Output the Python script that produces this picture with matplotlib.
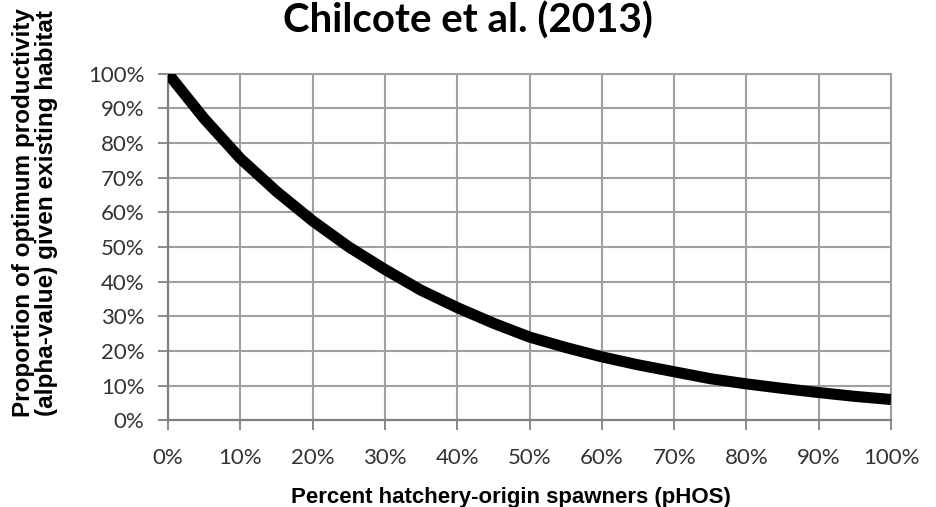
import matplotlib.pyplot as plt
from matplotlib.ticker import PercentFormatter

# pHOS (%) and proportion of optimum productivity (%)
phos = [0, 5, 10, 15, 20, 25, 30, 35, 40, 45, 50,
        55, 60, 65, 70, 75, 80, 85, 90, 95, 100]
productivity = [100, 87, 75.5, 66, 57.5, 50, 43.5, 37.5, 32.5, 28, 24,
                21, 18.3, 16, 14, 12, 10.5, 9.2, 8, 6.9, 6]

x_ticks = list(range(0, 101, 10))
y_ticks = list(range(0, 101, 10))

GRID_COLOR = "#a0a0a0"
AXIS_COLOR = "#808080"
LABEL_FONT = "Liberation Sans"

fig = plt.figure(figsize=(9.36, 5.07), dpi=100)
ax = fig.add_axes([0.1795, 0.171, 0.7725, 0.684])

ax.plot(phos, productivity, color="black", linewidth=8,
        solid_capstyle="butt", zorder=3)

ax.set_xlim(0, 100)
ax.set_ylim(0, 100)
ax.set_xticks(x_ticks)
ax.set_yticks(y_ticks)
ax.xaxis.set_major_formatter(PercentFormatter(decimals=0))
ax.yaxis.set_major_formatter(PercentFormatter(decimals=0))

ax.grid(True, color=GRID_COLOR, linewidth=1.5)
ax.set_axisbelow(True)
for side in ["top", "right"]:
    ax.spines[side].set_color(GRID_COLOR)
    ax.spines[side].set_linewidth(1.5)
for side in ["left", "bottom"]:
    ax.spines[side].set_color(AXIS_COLOR)
    ax.spines[side].set_linewidth(1.6)

ax.tick_params(axis="both", direction="out", length=7, width=1.3,
               color=AXIS_COLOR, labelsize=16, labelcolor="#333333")
ax.tick_params(axis="x", pad=13)
ax.tick_params(axis="y", pad=10)
for lbl in ax.get_xticklabels() + ax.get_yticklabels():
    lbl.set_family("Lato")

# axis titles placed directly in figure pixels
W, H = 936, 507
fig.text(511 / W, 1 - 497 / H, "Percent hatchery-origin spawners (pHOS)",
         ha="center", va="center", fontsize=16, fontweight="bold",
         family=LABEL_FONT)
fig.text(35 / W, 1 - 213 / H,
         "Proportion of optimum productivity\n(alpha-value) given existing habitat",
         ha="center", va="center", rotation=90, fontsize=17.5,
         fontweight="bold", family=LABEL_FONT, linespacing=1.0)

fig.text(468 / W, 1 - 33 / H, "Chilcote et al. (2013)", ha="center",
         va="baseline", fontsize=29, fontweight="bold", family="Lato")

fig.savefig("out.png", dpi=100)
